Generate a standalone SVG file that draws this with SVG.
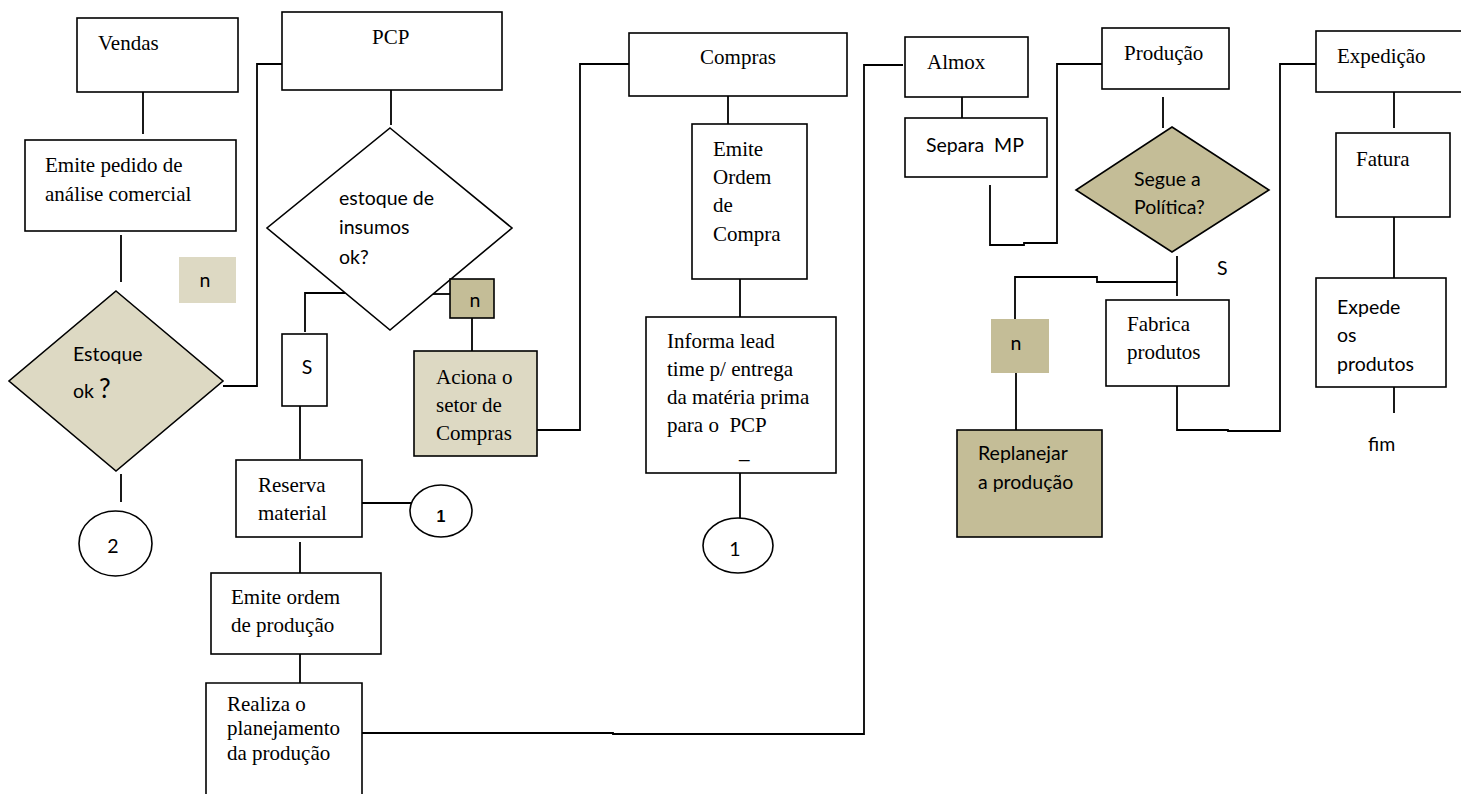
<svg xmlns="http://www.w3.org/2000/svg" width="1461" height="794" viewBox="0 0 1461 794">
  <style>
    .box { fill: #ffffff; stroke: #000000; stroke-width: 1.6; }
    .tan { fill: #ddd9c3; stroke: #000000; stroke-width: 1.6; }
    .olive { fill: #c4bd97; stroke: #000000; stroke-width: 1.6; }
    .tag-light { fill: #ddd9c3; stroke: none; }
    .tag-dark { fill: #c4bd97; stroke: none; }
    .serif { font-family: "Liberation Serif", "Times New Roman", serif; font-size: 21px; fill: #000; white-space: pre; }
    .sans { font-family: Lato, "Open Sans", "Liberation Sans", sans-serif; font-size: 19.5px; fill: #000; white-space: pre; }
    .wire { fill: none; stroke: #000000; stroke-width: 1.8; }
  </style>

  <!-- connectors -->
  <g id="connectors" class="wire">
    <line x1="143" y1="90" x2="143" y2="134"/>
    <line x1="121" y1="235" x2="121" y2="282"/>
    <polyline points="223,386 257,386 257,64 282,64"/>
    <line x1="121" y1="474" x2="121" y2="502"/>
    <line x1="391" y1="90" x2="391" y2="125"/>
    <polyline points="345,293 305,293 305,332"/>
    <line x1="300" y1="406" x2="300" y2="459"/>
    <line x1="362" y1="503" x2="417" y2="503"/>
    <line x1="300" y1="542" x2="300" y2="573"/>
    <line x1="300" y1="654" x2="300" y2="683"/>
    <polyline points="362,733 613,733 613,734 864,734 864,65 903,65"/>
    <line x1="433" y1="294" x2="450" y2="294"/>
    <line x1="472" y1="318" x2="472" y2="351"/>
    <polyline points="537,430 580,430 580,64 629,64"/>
    <line x1="728" y1="96" x2="728" y2="124"/>
    <line x1="740" y1="279" x2="740" y2="317"/>
    <line x1="740" y1="473" x2="740" y2="518"/>
    <line x1="962" y1="97" x2="962" y2="118"/>
    <polyline points="990,185 990,245 1024,245 1024,243 1057,243 1057,64 1102,64"/>
    <line x1="1163" y1="97" x2="1163" y2="128"/>
    <line x1="1177" y1="256" x2="1177" y2="296"/>
    <polyline points="1177,282 1097,282 1097,277 1015,277 1015,319"/>
    <line x1="1016" y1="373" x2="1016" y2="430"/>
    <polyline points="1177,386 1177,430 1228,430 1228,431 1280,431 1280,64 1316,64"/>
    <line x1="1394" y1="92" x2="1394" y2="128"/>
    <line x1="1394" y1="217" x2="1394" y2="278"/>
    <line x1="1394" y1="387" x2="1394" y2="413"/>
  </g>

  <!-- Vendas column -->
  <g id="vendas">
    <rect class="box" x="77" y="18" width="161" height="74"/>
    <text class="serif" x="98" y="50">Vendas</text>
  </g>
  <g id="emite-pedido">
    <rect class="box" x="25" y="140" width="211" height="91"/>
    <text class="serif" x="45" y="172">Emite pedido de</text>
    <text class="serif" x="45" y="201">análise comercial</text>
  </g>
  <g id="tag-n-vendas">
    <rect class="tag-light" x="179" y="257" width="57" height="46"/>
    <text class="sans" x="205" y="287" font-size="17" text-anchor="middle">n</text>
  </g>
  <g id="estoque-ok">
    <polygon class="tan" points="116,291 223,381 116,471 9,381"/>
    <text class="sans" x="73" y="361">Estoque</text>
    <text class="sans" x="73" y="398">ok <tspan font-size="26">?</tspan></text>
  </g>
  <g id="conector-2">
    <ellipse class="box" cx="115.5" cy="543.5" rx="36.5" ry="32.5"/>
    <text class="sans" x="113" y="553" font-size="25" text-anchor="middle">2</text>
  </g>

  <!-- PCP column -->
  <g id="pcp">
    <rect class="box" x="282" y="12" width="220" height="78"/>
    <text class="serif" x="372" y="44">PCP</text>
  </g>
  <g id="estoque-insumos">
    <polygon class="box" points="390,128 512,228 390,330 267,228"/>
    <text class="sans" x="339" y="205">estoque de</text>
    <text class="sans" x="339" y="234">insumos</text>
    <text class="sans" x="339" y="264">ok?</text>
  </g>
  <g id="tag-s-pcp">
    <rect class="box" x="282" y="334" width="45" height="72"/>
    <text class="sans" x="307" y="374" text-anchor="middle">S</text>
  </g>
  <g id="tag-n-pcp">
    <rect class="olive" x="450" y="279" width="44" height="39"/>
    <text class="sans" x="475" y="307" font-size="17" text-anchor="middle">n</text>
  </g>
  <g id="aciona-compras">
    <rect class="tan" x="414" y="351" width="123" height="105"/>
    <text class="serif" x="436" y="384">Aciona o</text>
    <text class="serif" x="436" y="412">setor de</text>
    <text class="serif" x="436" y="440">Compras</text>
  </g>
  <g id="reserva-material">
    <rect class="box" x="236" y="460" width="126" height="77"/>
    <text class="serif" x="258" y="492">Reserva</text>
    <text class="serif" x="258" y="520">material</text>
  </g>
  <g id="conector-1a">
    <ellipse class="box" cx="441" cy="511" rx="31" ry="26"/>
    <text x="441" y="522" font-size="16" font-weight="bold" font-family="Liberation Sans, Arial, sans-serif" text-anchor="middle">1</text>
  </g>
  <g id="emite-ordem-producao">
    <rect class="box" x="211" y="573" width="170" height="81"/>
    <text class="serif" x="231" y="604">Emite ordem</text>
    <text class="serif" x="231" y="632">de produção</text>
  </g>
  <g id="realiza-planejamento">
    <path class="box" d="M206,796 L206,683 L362,683 L362,796"/>
    <text class="serif" x="227" y="711" font-size="16.5">Realiza o</text>
    <text class="serif" x="227" y="735" font-size="16.5">planejamento</text>
    <text class="serif" x="227" y="760" font-size="16.5">da produção</text>
  </g>

  <!-- Compras column -->
  <g id="compras">
    <rect class="box" x="629" y="33" width="218" height="63"/>
    <text class="serif" x="738" y="64" text-anchor="middle">Compras</text>
  </g>
  <g id="emite-ordem-compra">
    <rect class="box" x="692" y="124" width="115" height="155"/>
    <text class="serif" x="713" y="156">Emite</text>
    <text class="serif" x="713" y="184">Ordem</text>
    <text class="serif" x="713" y="212">de</text>
    <text class="serif" x="713" y="241">Compra</text>
  </g>
  <g id="informa-lead-time">
    <rect class="box" x="646" y="317" width="190" height="156"/>
    <text class="serif" x="667" y="348">Informa lead</text>
    <text class="serif" x="667" y="376">time p/ entrega</text>
    <text class="serif" x="667" y="404">da matéria prima</text>
    <text class="serif" x="667" y="432">para o  PCP</text>
    <text class="serif" x="739" y="458" font-size="18">_</text>
  </g>
  <g id="conector-1b">
    <ellipse class="box" cx="738" cy="545.5" rx="35" ry="27.5"/>
    <text class="sans" x="735" y="556" font-size="17" text-anchor="middle">1</text>
  </g>

  <!-- Almoxarifado column -->
  <g id="almox">
    <rect class="box" x="905" y="37" width="123" height="60"/>
    <text class="serif" x="927" y="69">Almox</text>
  </g>
  <g id="separa-mp">
    <rect class="box" x="905" y="118" width="142" height="59"/>
    <text class="sans" x="926" y="152" font-size="18.5">Separa  MP</text>
  </g>

  <!-- Produção column -->
  <g id="producao">
    <rect class="box" x="1102" y="28" width="127" height="61"/>
    <text class="serif" x="1124" y="60">Produção</text>
  </g>
  <g id="segue-politica">
    <polygon class="olive" points="1172,127 1269,190 1172,252 1076,190"/>
    <text class="sans" x="1134" y="186">Segue a</text>
    <text class="sans" x="1134" y="214">Política?</text>
  </g>
  <g id="label-s-producao">
    <text class="sans" x="1217" y="275">S</text>
  </g>
  <g id="fabrica-produtos">
    <rect class="box" x="1106" y="300" width="123" height="86"/>
    <text class="serif" x="1127" y="331">Fabrica</text>
    <text class="serif" x="1127" y="359">produtos</text>
  </g>
  <g id="tag-n-producao">
    <rect class="tag-dark" x="991" y="319" width="58" height="54"/>
    <text class="sans" x="1016" y="350" font-size="17" text-anchor="middle">n</text>
  </g>
  <g id="replanejar">
    <rect class="olive" x="957" y="430" width="145" height="107"/>
    <text class="sans" x="978" y="460">Replanejar</text>
    <text class="sans" x="978" y="489">a produção</text>
  </g>

  <!-- Expedição column -->
  <g id="expedicao">
    <rect class="box" x="1316" y="31" width="150" height="61"/>
    <text class="serif" x="1337" y="63">Expedição</text>
  </g>
  <g id="fatura">
    <rect class="box" x="1336" y="133" width="114" height="84"/>
    <text class="serif" x="1356" y="166">Fatura</text>
  </g>
  <g id="expede-produtos">
    <rect class="box" x="1316" y="278" width="130" height="109"/>
    <text class="sans" x="1337" y="314">Expede</text>
    <text class="sans" x="1337" y="342">os</text>
    <text class="sans" x="1337" y="371">produtos</text>
  </g>
  <g id="fim">
    <text class="sans" x="1368" y="451" font-size="18">fim</text>
  </g>
</svg>
